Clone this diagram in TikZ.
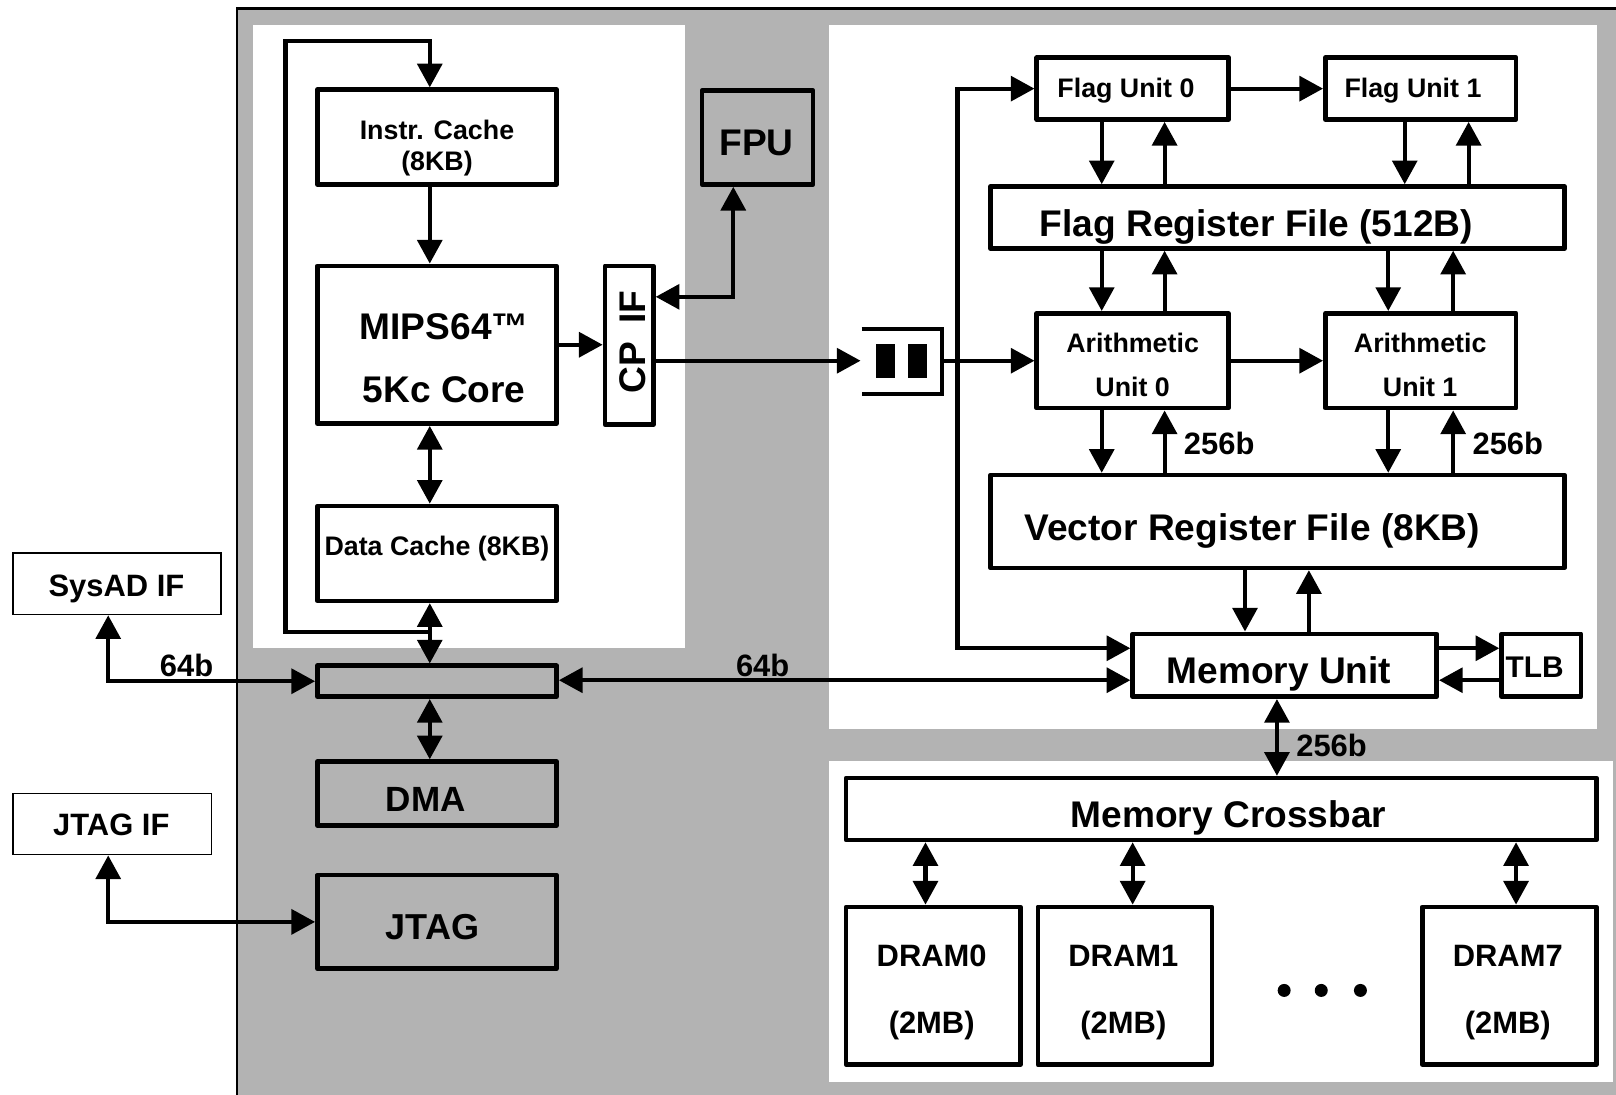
\documentclass[tikz,border=0pt]{standalone}
\usepackage{fontspec}
\setmainfont{Liberation Sans}
\usetikzlibrary{arrows.meta}
\definecolor{bg}{RGB}{179,179,179}
\begin{document}
\begin{tikzpicture}[x=1pt,y=-1pt,
  box/.style={draw, line width=4.5pt, fill=white, line join=round, inner sep=0pt, outer sep=2.25pt},
  gbox/.style={box, fill=bg},
  thinbox/.style={draw, line width=1.5pt, fill=white, inner sep=0pt, outer sep=0.75pt},
  tl/.style={inner sep=0pt, anchor=base, font=\bfseries\fontsize{#1}{#1}\selectfont},
  tri/.tip={Triangle[length=23pt,width=24pt]},
  con/.style={line width=4pt},
]
\useasboundingbox (0,0) rectangle (1568,1062);
% background areas
\fill[bg] (230,8) rectangle (1568,1062);
\draw[line width=2.5pt] (230,1064) -- (230,8) -- (1570,8);
\fill[white] (245,24) rectangle (665,629);
\fill[white] (804,24) rectangle (1550,707);
\fill[white] (804,738) rectangle (1565,1050);

% helper coordinates
\coordinate (xL) at (417,0);
\coordinate (xLoop) at (277,0);
\coordinate (yLoopT) at (0,40);
\coordinate (yLoopB) at (0,613);
\coordinate (xF) at (711.5,0);
\coordinate (yF) at (0,288);
\coordinate (yQ) at (0,350);
\coordinate (xV) at (929,0);
\coordinate (y1) at (0,629);
\coordinate (y2) at (0,660);
\coordinate (xa) at (1069,0);
\coordinate (xb) at (1130,0);
\coordinate (xc) at (1363,0);
\coordinate (xd) at (1425,0);
\coordinate (xe) at (1347,0);
\coordinate (xf) at (1410,0);
\coordinate (xg) at (1208,0);
\coordinate (xh) at (1270,0);
\coordinate (xi) at (1239,0);
\coordinate (xj) at (898,0);
\coordinate (xk) at (1099,0);
\coordinate (xl) at (1471,0);
\coordinate (xS) at (105,0);
\coordinate (qin) at (835,350);
\coordinate (qout) at (914,350);

% boxes
\node[box, minimum width=232pt, minimum height=92pt] (ic) at (424,133) {};
\node[box, minimum width=232pt, minimum height=153pt] (mips) at (424,334.5) {};
\node[box, minimum width=232pt, minimum height=92pt] (dc) at (424,537) {};
\node[box, minimum width=47pt, minimum height=154pt] (cpif) at (610.5,335) {};
\node[gbox, minimum width=108pt, minimum height=91pt] (fpu) at (735,133.5) {};
\node[gbox, minimum width=232pt, minimum height=30pt] (bus) at (424,661) {};
\node[gbox, minimum width=232pt, minimum height=62pt] (dma) at (424,770) {};
\node[gbox, minimum width=232pt, minimum height=91pt] (jtag) at (424,894.5) {};
\node[thinbox, minimum width=201.5pt, minimum height=59.5pt] (sysad) at (113.5,566.5) {};
\node[thinbox, minimum width=192.5pt, minimum height=59.5pt] (jtagif) at (109,799.5) {};
\node[box, minimum width=186pt, minimum height=60pt] (fu0) at (1099,86) {};
\node[box, minimum width=185pt, minimum height=60pt] (fu1) at (1378.5,86) {};
\node[box, minimum width=557pt, minimum height=60pt] (frf) at (1239.5,211) {};
\node[box, minimum width=186pt, minimum height=92pt] (au0) at (1099,350) {};
\node[box, minimum width=185pt, minimum height=92pt] (au1) at (1378.5,350) {};
\node[box, minimum width=557pt, minimum height=90pt] (vrf) at (1239.5,506) {};
\node[box, minimum width=295pt, minimum height=61pt] (mu) at (1246.5,645.5) {};
\node[box, minimum width=77pt, minimum height=61pt] (tlb) at (1495.5,645.5) {};
\node[box, minimum width=728pt, minimum height=60pt] (mx) at (1185,785) {};
\node[box, minimum width=169pt, minimum height=153pt] (d0) at (905.5,956.5) {};
\node[box, minimum width=169pt, minimum height=153pt] (d1) at (1091.5,956.5) {};
\node[box, minimum width=169pt, minimum height=153pt] (d7) at (1464.5,956.5) {};

% queue
\draw[line width=4pt] (836,319) -- (914,319) -- (914,382) -- (836,382);
\fill (850,334) rectangle (868,367);
\fill (881,334) rectangle (899,367);

% texts
\node[tl=26] (t-ic1) at (424,135.5) {Instr. Cache};
\node[tl=26] (t-ic2) at (424,165) {(8KB)};
\node[tl=36] (t-mips1) at (431,329) {MIPS64™};
\node[tl=36] (t-mips2) at (431,391) {5Kc Core};
\node[tl=26] (t-dc) at (424,539) {Data Cache (8KB)};
\node[tl=36, rotate=90] (t-cp) at (626,332) {CP\hspace{18pt}IF};
\node[tl=36] (t-fpu) at (734,151) {FPU};
\node[tl=34] (t-dma) at (413,787) {DMA};
\node[tl=35] (t-jtag) at (419.5,911.5) {JTAG};
\node[tl=30] (t-sys) at (113,578.5) {SysAD IF};
\node[tl=30] (t-jif) at (108,811) {JTAG IF};
\node[tl=30] (t-64a) at (181,656.5) {64b};
\node[tl=30] (t-64b) at (740,656.5) {64b};
\node[tl=26] (t-fu0) at (1092.5,94.3) {Flag Unit 0};
\node[tl=26] (t-fu1) at (1371,94.3) {Flag Unit 1};
\node[tl=36] (t-frf) at (1219,229) {Flag Register File (512B)};
\node[tl=26] (t-au0a) at (1099,342.3) {Arithmetic};
\node[tl=26] (t-au0b) at (1099,384.3) {Unit 0};
\node[tl=26] (t-au1a) at (1378,342.3) {Arithmetic};
\node[tl=26] (t-au1b) at (1378,384.3) {Unit 1};
\node[tl=30] (t-256a) at (1183,441) {256b};
\node[tl=30] (t-256b) at (1463,441) {256b};
\node[tl=36] (t-vrf) at (1215,524) {Vector Register File (8KB)};
\node[tl=36] (t-mu) at (1241,663) {Memory Unit};
\node[tl=29] (t-tlb) at (1489,657) {TLB};
\node[tl=30] (t-256c) at (1292,734) {256b};
\node[tl=36] (t-mx) at (1192,803) {Memory Crossbar};
\node[tl=30] (t-d0a) at (904,938) {DRAM0};
\node[tl=30] (t-d0b) at (904,1003) {(2MB)};
\node[tl=30] (t-d1a) at (1090,938) {DRAM1};
\node[tl=30] (t-d1b) at (1090,1003) {(2MB)};
\node[tl=30] (t-d7a) at (1463,938) {DRAM7};
\node[tl=30] (t-d7b) at (1463,1003) {(2MB)};
\fill (1246,961) circle[radius=6.3pt];
\fill (1282,961) circle[radius=6.3pt];
\fill (1320,961) circle[radius=6.3pt];

% connectors, left part
\draw[con,-tri] (xL |- yLoopB) -- (xLoop |- yLoopB) -- (xLoop |- yLoopT) -- (xL |- yLoopT) -- (ic.north -| xL);
\draw[con,-tri] (ic.south -| xL) -- (mips.north -| xL);
\draw[con,tri-tri] (mips.south -| xL) -- (dc.north -| xL);
\draw[con,tri-tri] (dc.south -| xL) -- (bus.north -| xL);
\draw[con,tri-tri] (bus.south -| xL) -- (dma.north -| xL);
\draw[con,-tri] (mips.east) -- (mips.east -| cpif.west);
\draw[con,tri-tri] (cpif.east |- yF) -| (fpu.south -| xF);
\draw[con,-tri] (cpif.east |- yQ) -- (qin);
\draw[con,tri-tri] (sysad.south -| xS) |- (bus.west);
\draw[con,tri-tri] (jtagif.south -| xS) |- (jtag.west);
\draw[con,tri-tri] (bus.east |- y2) -- (mu.west |- y2);

% connectors, right part
\draw[con,-tri] (qout) -- (au0.west);
\draw[con,tri-tri] (fu0.west) -| (xV |- yQ) |- (mu.west |- y1);
\draw[con,-tri] (mu.east |- y1) -- (tlb.west |- y1);
\draw[con,-tri] (tlb.west |- y2) -- (mu.east |- y2);
\draw[con,-tri] (fu0.east) -- (fu1.west);
\draw[con,-tri] (au0.east) -- (au1.west);
\draw[con,-tri] (fu0.south -| xa) -- (frf.north -| xa);
\draw[con,-tri] (frf.north -| xb) -- (fu0.south -| xb);
\draw[con,-tri] (fu1.south -| xc) -- (frf.north -| xc);
\draw[con,-tri] (frf.north -| xd) -- (fu1.south -| xd);
\draw[con,-tri] (frf.south -| xa) -- (au0.north -| xa);
\draw[con,-tri] (au0.north -| xb) -- (frf.south -| xb);
\draw[con,-tri] (frf.south -| xe) -- (au1.north -| xe);
\draw[con,-tri] (au1.north -| xf) -- (frf.south -| xf);
\draw[con,-tri] (au0.south -| xa) -- (vrf.north -| xa);
\draw[con,-tri] (vrf.north -| xb) -- (au0.south -| xb);
\draw[con,-tri] (au1.south -| xe) -- (vrf.north -| xe);
\draw[con,-tri] (vrf.north -| xf) -- (au1.south -| xf);
\draw[con,-tri] (vrf.south -| xg) -- (mu.north -| xg);
\draw[con,-tri] (mu.north -| xh) -- (vrf.south -| xh);
\draw[con,tri-tri] (mu.south -| xi) -- (mx.north -| xi);
\draw[con,tri-tri] (mx.south -| xj) -- (d0.north -| xj);
\draw[con,tri-tri] (mx.south -| xk) -- (d1.north -| xk);
\draw[con,tri-tri] (mx.south -| xl) -- (d7.north -| xl);
\end{tikzpicture}
\end{document}
